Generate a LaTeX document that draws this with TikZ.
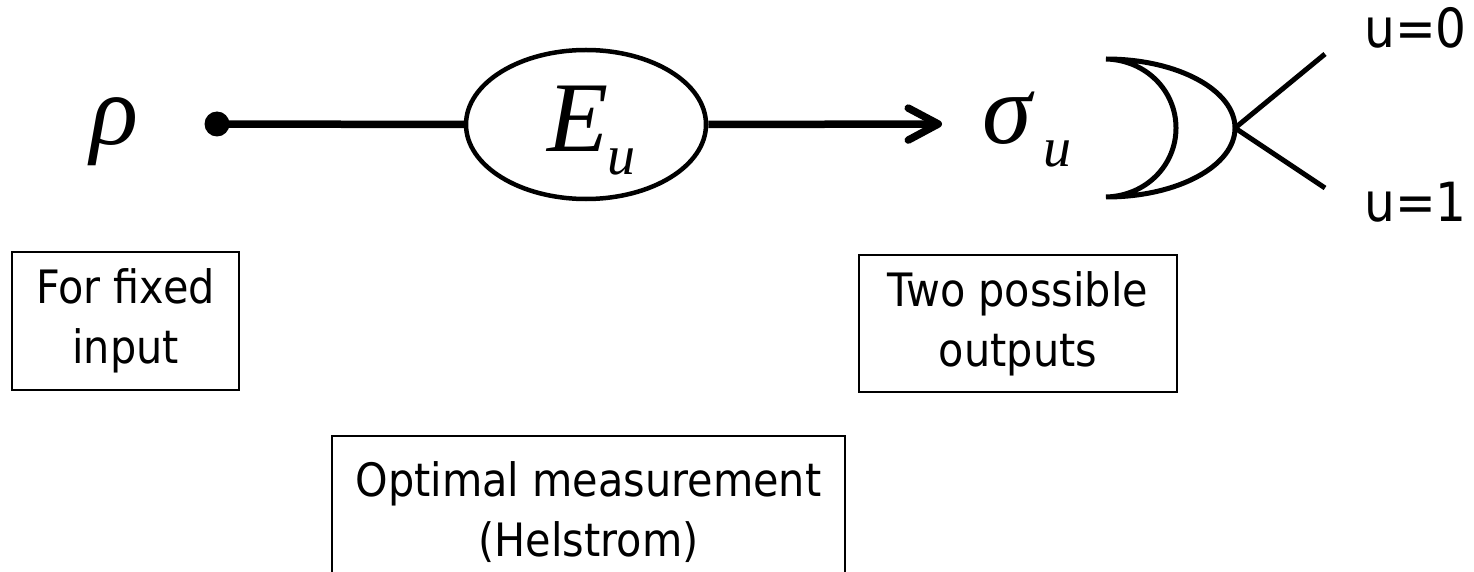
\documentclass[tikz,border=0pt]{standalone}
\usepackage{fontspec}
\setmainfont{DejaVu Sans}[FakeStretch=0.9]
\newfontfamily\tnr{Liberation Serif}
\usetikzlibrary{shapes.geometric,arrows.meta}
\begin{document}
\begin{tikzpicture}[x=1pt,y=-1pt,
  wire/.style={line width=7.5pt},
  thinwire/.style={line width=5pt},
  mathbig/.style={font=\tnr\itshape\fontsize{100}{100}\selectfont, inner sep=0pt, anchor=base west},
  mathsub/.style={font=\tnr\itshape\fontsize{56}{56}\selectfont, inner sep=0pt, anchor=base west},
  textbox/.style={draw, line width=2.6pt, rectangle, align=center, inner sep=0pt, font=\fontsize{46}{60}\selectfont},
  outlabel/.style={font=\fontsize{54}{54}\selectfont, inner sep=0pt, anchor=base west},
]
\useasboundingbox (0,0) rectangle (1474,572);
\clip (0,0) rectangle (1474,572);

% input
\node[mathbig] (rho) at (90,145) {ρ};
\node[circle, fill=black, inner sep=0pt, minimum size=25pt] (dot) at (217,124) {};

% measurement
\node[ellipse, draw, line width=4.5pt, minimum width=240pt, minimum height=149pt, inner sep=0pt] (meas) at (586,124.5) {};
\node[mathbig] (E) at (547,152) {E};
\node[mathsub] (Eu) at (607,175) {u};

\draw[wire] (dot.center) -- (meas.west);
\coordinate (tip) at (942,124);
\draw[wire, -{Straight Barb[length=30pt,width=32pt,round]}] (meas.east) -- (tip);

% output
\node[mathbig] (sigma) at (982,144) {σ};
\node[mathsub] (su) at (1043,167) {u};

% meter
\draw[thinwire, fill=white] (1106,59) .. controls (1178,59) and (1235,90.4) .. (1235,128)
  .. controls (1235,165.6) and (1178,197) .. (1106,197)
  .. controls (1145.6,196) and (1176,165.6) .. (1176,128)
  .. controls (1176,90.4) and (1145.6,60) .. (1106,59) -- cycle;
\coordinate (mR) at (1235,128);
\coordinate (o0) at (1325,54);
\coordinate (o1) at (1325,188);
\draw[thinwire] (mR) -- (o0);
\draw[thinwire] (mR) -- (o1);
\node[outlabel] (u0) at (1364,48) {u=0};
\node[outlabel] (u1) at (1364,222) {u=1};

% text boxes
\node[textbox, minimum width=227pt, minimum height=138pt] (fixed) at (125.5,321) {For fixed\\input};
\node[textbox, minimum width=318pt, minimum height=137pt] (outs) at (1018,323.5) {Two possible\\outputs};
\node[textbox, minimum width=513pt, minimum height=152pt] (opt) at (588.5,512) {Optimal measurement\\(Helstrom)};
\end{tikzpicture}
\end{document}
